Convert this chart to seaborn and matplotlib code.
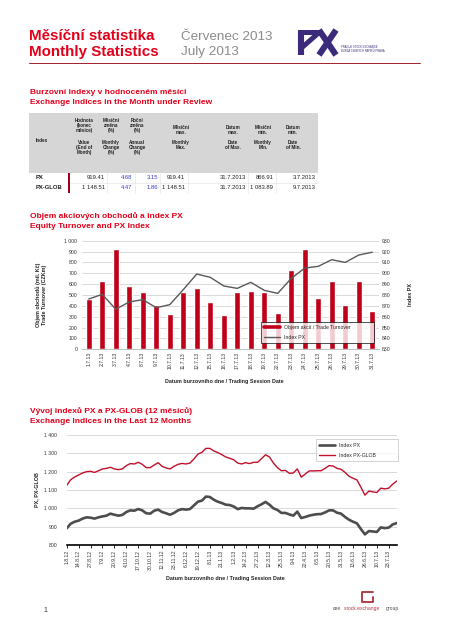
import numpy as np
import seaborn as sns
import matplotlib.pyplot as plt
from matplotlib.lines import Line2D
from matplotlib.patches import Rectangle
from matplotlib.ticker import FuncFormatter

# July 2013 trading sessions: equity turnover (CZKm) and PX close
session_dates = ["1.7.13", "2.7.13", "3.7.13", "4.7.13", "8.7.13", "9.7.13", "10.7.13",
                 "11.7.13", "12.7.13", "15.7.13", "16.7.13", "17.7.13", "18.7.13", "19.7.13",
                 "22.7.13", "23.7.13", "24.7.13", "25.7.13", "26.7.13", "29.7.13", "30.7.13",
                 "31.7.13"]
turnover = [463, 629, 923, 583, 528, 405, 325, 528, 564, 436, 316, 528, 537, 528,
            334, 730, 923, 472, 629, 408, 629, 353]
px_close = [876.3, 880.6, 866.9, 873.6, 875.7, 868.3, 871.1, 884.9, 899.3, 896.3, 888.3,
            886.1, 891.7, 884.3, 881.5, 895.3, 904.8, 906.4, 912.5, 910.0, 916.8, 919.41]

# last 12 months, one value every 3rd session (1.8.2012 - 31.7.2013)
tick_dates = ["1.8.12", "14.8.12", "27.8.12", "7.9.12", "20.9.12", "4.10.12", "17.10.12",
              "30.10.12", "12.11.12", "23.11.12", "6.12.12", "19.12.12", "8.1.13", "21.1.13",
              "1.2.13", "14.2.13", "27.2.13", "12.3.13", "25.3.13", "9.4.13", "22.4.13",
              "6.5.13", "20.5.13", "31.5.13", "13.6.13", "26.6.13", "10.7.13", "23.7.13"]
px_12m = [891, 916, 927, 933, 944, 951, 949, 944, 951, 956,
          960, 971, 965, 960, 964, 980, 989, 987, 996, 989,
          973, 971, 987, 993, 980, 973, 965, 975, 989, 996,
          993, 996, 1016, 1036, 1042, 1064, 1062, 1047, 1036, 1029,
          1020, 1018, 1010, 996, 1002, 1000, 1000, 998, 1011, 1022,
          1035, 1020, 1000, 991, 975, 975, 967, 960, 982, 947,
          953, 960, 965, 968, 969, 978, 989, 989, 976, 971,
          953, 938, 927, 918, 887, 858, 876, 874, 871, 896,
          892, 895, 912, 919.41]
pxglob_12m = [1125, 1156, 1171, 1182, 1193, 1200, 1202, 1196, 1205, 1215,
              1218, 1224, 1215, 1211, 1215, 1233, 1244, 1242, 1251, 1240,
              1222, 1222, 1236, 1249, 1229, 1220, 1215, 1229, 1240, 1245,
              1242, 1247, 1269, 1296, 1305, 1327, 1327, 1313, 1304, 1293,
              1280, 1273, 1265, 1247, 1242, 1249, 1244, 1251, 1251, 1271,
              1292, 1280, 1247, 1222, 1205, 1207, 1191, 1193, 1215, 1170,
              1187, 1204, 1204, 1205, 1205, 1218, 1233, 1231, 1218, 1213,
              1196, 1175, 1164, 1155, 1115, 1072, 1094, 1090, 1086, 1110,
              1106, 1110, 1132, 1148.51]
sample_day = np.arange(len(px_12m)) * 3

# table of the month
index_names = ["PX", "PX-GLOB"]
table_rows = [["919.41", "4.68", "3.15", "919.41", "31.7.2013", "866.91", "3.7.2013"],
              ["1 148.51", "4.47", "1.86", "1 148.51", "31.7.2013", "1 083.89", "9.7.2013"]]
header_cz = [["Hodnota", "(konec", "měsíce)"], ["Měsíční", "změna", "(%)"], ["Roční", "změna", "(%)"],
             ["Měsíční", "max."], ["Datum", "max."], ["Měsíční", "min."], ["Datum", "min."]]
header_en = [["Value", "(End of", "Month)"], ["Monthly", "Change", "(%)"], ["Annual", "Change", "(%)"],
             ["Monthly", "Max."], ["Date", "of Max."], ["Monthly", "Min."], ["Date", "of Min."]]

RED = "#e2001a"
BAR = "#c00018"
W, H = 453, 640

sns.set_style("white")
plt.rcParams["font.family"] = ["Liberation Sans", "DejaVu Sans"]

fig = plt.figure(figsize=(W / 100, H / 100), dpi=100)


def txt(x, y, s, **kw):
    kw.setdefault("va", "center")
    fig.text(x / W, 1 - y / H, s, **kw)


def fline(xs, ys, **kw):
    fig.add_artist(Line2D([x / W for x in xs], [1 - y / H for y in ys],
                          transform=fig.transFigure, **kw))


def frect(x0, y0, x1, y1, **kw):
    fig.add_artist(Rectangle((x0 / W, 1 - y1 / H), (x1 - x0) / W, (y1 - y0) / H,
                             transform=fig.transFigure, **kw))


def axes_px(x0, y0, x1, y1):
    return fig.add_axes([x0 / W, 1 - y1 / H, (x1 - x0) / W, (y1 - y0) / H])


space_fmt = FuncFormatter(lambda v, p: f"{v:,.0f}".replace(",", " "))

# ---- page header ----
txt(29, 36.5, "Měsíční statistika", color=RED, fontsize=10.9, fontweight="bold")
txt(29, 52, "Monthly Statistics", color=RED, fontsize=10.9, fontweight="bold")
txt(181, 36.5, "Červenec 2013", color="#8c8c8c", fontsize=9.7)
txt(181, 52, "July 2013", color="#8c8c8c", fontsize=9.7)
logo = "#3c2a7a"
fline([301, 301], [30, 55], color=logo, lw=4.4, solid_capstyle="butt")
fline([298, 320], [32.3, 32.3], color=logo, lw=3.6, solid_capstyle="butt")
fline([318.5, 302], [33, 47.5], color=logo, lw=3.6, solid_capstyle="butt")
fline([319, 336], [30, 55], color=logo, lw=4.4, solid_capstyle="butt")
fline([336, 319], [30, 55], color=logo, lw=4.4, solid_capstyle="butt")
txt(341, 47, "PRAGUE STOCK EXCHANGE", color=logo, fontsize=1.9)
txt(341, 50.5, "BURZA CENNÝCH PAPÍRŮ PRAHA", color=logo, fontsize=1.9)
fline([29, 420], [63.3, 63.3], color="#a0202a", lw=0.7)

# ---- table section ----
txt(30, 93, "Burzovní indexy v hodnoceném měsíci", color=RED, fontsize=6.05, fontweight="bold")
txt(30, 102.7, "Exchange Indices in the Month under Review", color=RED, fontsize=6.05, fontweight="bold")

frect(29, 113, 318, 173, color="#d6d6d6", lw=0)
txt(42, 140, "Index", fontsize=3.3, fontweight="bold", ha="center", color="#222222")
col_center = [84, 111, 137, 181, 233, 263, 293]
col_right = [105.3, 132.7, 158.3, 185, 245.5, 273.3, 316]
for cx, cz, en in zip(col_center, header_cz, header_en):
    ys = [120, 125.3, 130.6] if len(cz) == 3 else [127.7, 133]
    for y, s in zip(ys, cz):
        txt(cx, y, s, fontsize=3.3, fontweight="bold", ha="center", color="#222222")
    for y, s in zip([142.3, 147.6, 152.9], en):
        txt(cx, y, s, fontsize=3.3, fontweight="bold", ha="center", color="#222222")

for r, (name, row) in enumerate(zip(index_names, table_rows)):
    y = 177.8 + r * 10
    txt(36, y, name, fontsize=4.2, fontweight="bold", color="#222222")
    for c, (xr, val) in enumerate(zip(col_right, row)):
        txt(xr, y, val, fontsize=4.2, ha="right",
            color="#3b3bc8" if c in (1, 2) else "#222222")
for xv in [107, 134.5, 160, 187.5, 247.5, 275.5]:
    fline([xv, xv], [173, 193], color="#e0e0e0", lw=0.4)
fline([70, 318], [182.8, 182.8], color="#e0e0e0", lw=0.4)
frect(68, 173, 70, 193, color="#a00020", lw=0)

# ---- chart 1: turnover and PX ----
txt(30, 216.3, "Objem akciových obchodů a index PX", color=RED, fontsize=6.05, fontweight="bold")
txt(30, 226, "Equity Turnover and PX Index", color=RED, fontsize=6.05, fontweight="bold")

ax1 = axes_px(82, 240.7, 379, 349.3)
sns.barplot(x=session_dates, y=turnover, color=BAR, saturation=1, width=0.45, ax=ax1)
ax1.set_ylim(0, 1000)
ax1.set_yticks(range(0, 1001, 100))
ax1.yaxis.set_major_formatter(space_fmt)
ax1.set_xlim(-0.5, len(session_dates) - 0.5)
ax1.yaxis.grid(True, color="#d9d9d9", lw=0.7)
ax1.set_axisbelow(True)
for s in ["top", "left", "right"]:
    ax1.spines[s].set_visible(False)
ax1.spines["bottom"].set_color("#bfbfbf")
ax1.spines["bottom"].set_linewidth(0.7)
ax1.tick_params(axis="y", length=0, pad=3.4, labelsize=3.7, labelcolor="#333333")
ax1.tick_params(axis="x", length=0, pad=2, labelsize=3.7, labelcolor="#333333", labelrotation=90)
ax1.set_xlabel("")
ax1.set_ylabel("")

ax2 = ax1.twinx()
sns.lineplot(x=session_dates, y=px_close, sort=False, color="#595959", lw=1.0, ax=ax2)
ax2.set_ylim(830, 930)
ax2.set_yticks(range(830, 931, 10))
ax2.tick_params(axis="y", length=0, pad=2.2, labelsize=3.7, labelcolor="#333333")
ax2.set_ylabel("")
for s in ax2.spines.values():
    s.set_visible(False)
leg1 = ax2.legend(handles=[Line2D([], [], color=BAR, lw=2.6), Line2D([], [], color="#595959", lw=1.0)],
                  labels=["Objem akcií / Trade Turnover", "Index PX"],
                  loc="lower left", bbox_to_anchor=(0.603, 0.058, 0.38, 0.184), mode="expand",
                  fontsize=3.7, frameon=True, fancybox=False, handlelength=3, labelspacing=1.0,
                  borderpad=0.6, borderaxespad=0)
leg1.get_frame().set_edgecolor("black")
leg1.get_frame().set_linewidth(0.6)

txt(41.5, 295, "Objem obchodů (mil. Kč)\nTrade Turnover (CZKm)", rotation=90, ha="center",
    fontsize=3.9, fontweight="bold", color="#222222", linespacing=1.2)
txt(410, 295, "Index PX", rotation=90, ha="center", fontsize=3.9, fontweight="bold", color="#222222")
txt(224.7, 381, "Datum burzovního dne / Trading Session Date", ha="center",
    fontsize=3.9, fontweight="bold", color="#222222")

# ---- chart 2: PX and PX-GLOB, 12 months ----
txt(30, 410.7, "Vývoj indexů PX a PX-GLOB (12 měsíců)", color=RED, fontsize=6.05, fontweight="bold")
txt(30, 421.7, "Exchange Indices in the Last 12 Months", color=RED, fontsize=6.05, fontweight="bold")

ax3 = axes_px(66.7, 435, 396.7, 545)
sns.lineplot(x=sample_day, y=px_12m, color="#4d4d4d", lw=1.9, ax=ax3, label="Index PX")
sns.lineplot(x=sample_day, y=pxglob_12m, color="#c0102a", lw=1.0, ax=ax3, label="Index PX-GLOB")
ax3.set_xlim(0, sample_day[-1])
ax3.set_ylim(800, 1400)
ax3.set_yticks(range(800, 1401, 100))
ax3.yaxis.set_major_formatter(space_fmt)
ax3.set_xticks(np.arange(len(tick_dates)) * 9)
ax3.set_xticklabels(tick_dates)
ax3.yaxis.grid(True, color="#d9d9d9", lw=0.7)
ax3.set_axisbelow(True)
for s in ["top", "left", "right"]:
    ax3.spines[s].set_visible(False)
ax3.spines["bottom"].set_color("black")
ax3.spines["bottom"].set_linewidth(1.2)
ax3.spines["bottom"].set_zorder(5)
ax3.tick_params(axis="y", length=0, pad=6.8, labelsize=3.7, labelcolor="#333333")
ax3.tick_params(axis="x", direction="out", length=2.3, width=0.6, color="black", pad=1,
                labelsize=3.7, labelcolor="#333333", labelrotation=90, bottom=True)
ax3.set_xlabel("")
ax3.set_ylabel("")
leg2 = ax3.legend(loc="upper left", bbox_to_anchor=(0.755, 0.964, 0.249, 0.0), mode="expand",
                  fontsize=3.7, frameon=True, fancybox=False, handlelength=3, labelspacing=1.0,
                  borderpad=0.7, borderaxespad=0)
leg2.get_frame().set_edgecolor("#bfbfbf")
leg2.get_frame().set_linewidth(0.6)

txt(36.7, 490, "PX, PX-GLOB", rotation=90, ha="center", fontsize=3.9, fontweight="bold", color="#222222")
txt(225.5, 578.7, "Datum burzovního dne / Trading Session Date", ha="center",
    fontsize=3.9, fontweight="bold", color="#222222")

# ---- footer ----
txt(43, 610, "1", fontsize=5, color="#333333")
fline([373, 361.5, 361.5, 373, 373], [592, 592, 602, 602, 597], color="#a8323a", lw=1.3)
txt(333, 608.5, "cee", fontsize=3.6, color="#4d4d4d")
txt(344, 608.5, "stock exchange", fontsize=3.6, color="#b03a48")
txt(385.5, 608.5, "group", fontsize=3.6, color="#4d4d4d")

fig.savefig("out.png", dpi=100)
